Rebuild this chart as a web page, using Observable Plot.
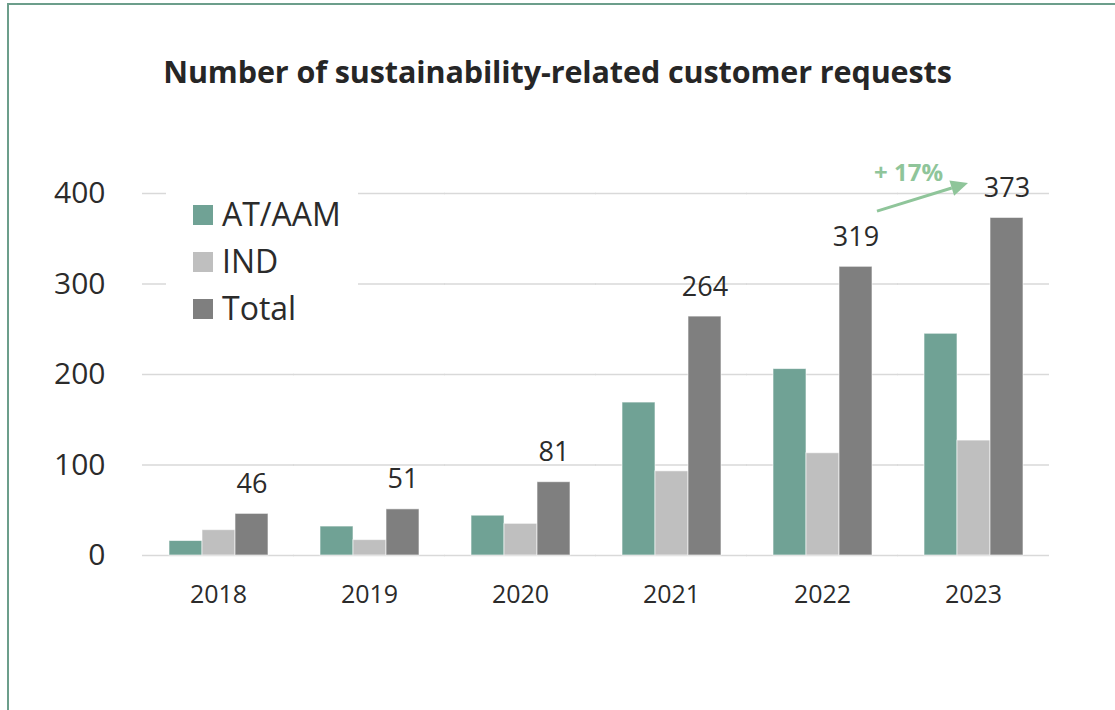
<!DOCTYPE html>
<html><head><meta charset="utf-8">
<script src="https://cdn.jsdelivr.net/npm/d3@7"></script>
<script src="https://cdn.jsdelivr.net/npm/@observablehq/plot@0.6"></script>
<style>
html,body{margin:0;padding:0;background:#fff;}
#wrap{position:relative;width:1115px;height:710px;overflow:hidden;font-family:"Open Sans",sans-serif;background:#fff;}
#border{position:absolute;left:7px;top:3px;width:1200px;height:800px;border-left:2.5px solid #6c9e8b;border-top:2.5px solid #6c9e8b;box-sizing:border-box;}
#chart{position:absolute;left:0;top:0;}
#title{position:absolute;left:0;width:1115px;top:56px;text-align:center;font-weight:700;font-size:30.5px;line-height:1;color:#262626;white-space:nowrap;letter-spacing:-0.1px;}
#legend{position:absolute;left:166px;top:180px;width:192px;height:150px;background:#fff;}
.li{position:absolute;left:27px;font-size:32px;line-height:1;color:#2b2b2b;white-space:nowrap;}
.sw{position:absolute;left:-29px;top:7px;width:20px;height:20px;}
</style>
</head><body>
<div id="wrap">
  <div id="border"></div>
  <div id="chart"></div>
  <div id="title">Number of sustainability-related customer requests</div>
  <div id="legend"></div>
</div>
<script>
const years = ["2018","2019","2020","2021","2022","2023"];
const series = ["AT/AAM","IND","Total"];
const atAam = [16,32,44,169,206,245];
const ind = [28,17,35,93,113,127];
const total = [46,51,81,264,319,373];
const colors = ["#70a295","#bfbfbf","#7f7f7f"];
const yTicks = [0,100,200,300,400];
// growth annotation: arrow from 2022 to 2023 (y positions in data units)
const arrowFrom = {year:"2022", value:380};
const arrowTo = {year:"2023", value:411};

const valuesBySeries = [atAam, ind, total];
const data = years.flatMap((yr,i)=>series.map((s,j)=>({year:yr, series:s, value:valuesBySeries[j][i]})));
const totals = data.filter(d=>d.series==="Total");

const plot = Plot.plot({
  width:1115, height:710,
  marginLeft:140, marginRight:64, marginTop:193, marginBottom:155,
  style:{fontFamily:"'Open Sans', sans-serif", color:"#2b2b2b", background:"transparent", overflow:"visible"},
  fx:{domain:years, paddingInner:0.335, paddingOuter:0.1675, label:null},
  x:{domain:series, padding:0, axis:null},
  y:{domain:[0,400], label:null},
  color:{domain:series, range:colors},
  marks:[
    Plot.ruleY(yTicks, {stroke:"#d9d9d9", strokeWidth:1.5, insetLeft:-26, insetRight:-26}),
    Plot.barY(data, {fx:"year", x:"series", y:"value", fill:"series", stroke:"#ffffff", strokeWidth:1, strokeOpacity:0.6}),
    Plot.text(totals, {fx:"year", x:"series", y:"value", text:d=>String(d.value), dy:-21, lineAnchor:"bottom", fontSize:27, fill:"#2b2b2b"}),
    Plot.axisY({ticks:yTicks, tickSize:0, tickPadding:35, dx:-28, fontSize:30}),
    Plot.axisFx({anchor:"bottom", tickSize:0, tickPadding:30, fontSize:25, label:null})
  ]
});
document.getElementById("chart").appendChild(plot);

// annotation arrow drawn with the plot's own scales
const fx = plot.scale("fx"), ys = plot.scale("y");
const bw = fx.bandwidth;
const x1 = fx.apply(arrowFrom.year) + bw + 5;
const y1 = ys.apply(arrowFrom.value);
const x2 = fx.apply(arrowTo.year) + bw*0.45;
const y2 = ys.apply(arrowTo.value);
const green = "#8fc59a";
const svg = d3.select(plot);
const ang = Math.atan2(y2-y1, x2-x1);
const hl = 17, hw = 8;
const bx = x2 - hl*Math.cos(ang), by = y2 - hl*Math.sin(ang);
svg.append("line").attr("x1",x1).attr("y1",y1).attr("x2",bx).attr("y2",by)
  .attr("stroke",green).attr("stroke-width",3);
svg.append("path").attr("d",`M${x2},${y2}L${bx - hw*Math.sin(ang)},${by + hw*Math.cos(ang)}L${bx + hw*Math.sin(ang)},${by - hw*Math.cos(ang)}Z`)
  .attr("fill",green);
const pct = Math.round((total[5]/total[4]-1)*100);
svg.append("text").attr("x",(x1+x2)/2-14).attr("y",y2-2).attr("text-anchor","middle")
  .attr("font-size",24).attr("font-weight",700).attr("fill",green)
  .attr("font-family","'Open Sans', sans-serif").text(`+ ${pct}%`);

// legend
const leg = document.getElementById("legend");
series.forEach((s,i)=>{
  const row = document.createElement("div");
  row.className = "li";
  row.style.top = (17.5 + i*47) + "px";
  row.style.left = "56px";
  const sw = document.createElement("span");
  sw.className = "sw"; sw.style.background = colors[i];
  row.appendChild(sw);
  row.appendChild(document.createTextNode(s));
  leg.appendChild(row);
});
</script>
</body></html>
